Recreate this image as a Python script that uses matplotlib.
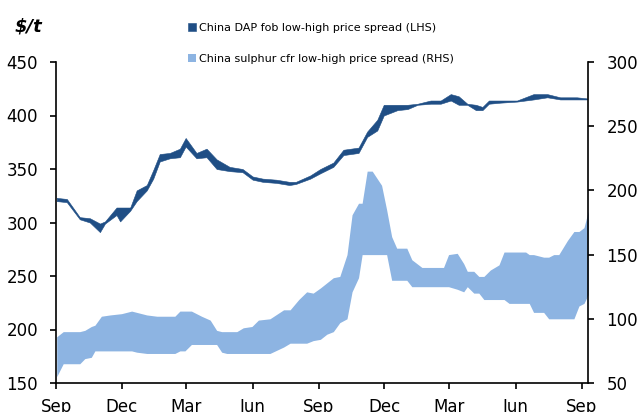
import matplotlib
matplotlib.use("Agg")
import matplotlib.pyplot as plt
import matplotlib.dates as mdates
import pandas as pd

# DAP China fob (LHS), $/t
dap_dates = ["2016-09-02", "2016-09-16", "2016-10-04", "2016-10-18", "2016-11-01", "2016-11-08",
             "2016-11-24", "2016-11-29", "2016-12-13", "2016-12-22", "2017-01-05", "2017-01-14",
             "2017-01-23", "2017-02-06", "2017-02-20", "2017-02-28", "2017-03-15", "2017-03-29",
             "2017-04-12", "2017-04-30", "2017-05-18", "2017-06-01", "2017-06-15", "2017-07-04",
             "2017-07-22", "2017-07-31", "2017-08-20", "2017-09-03", "2017-09-21", "2017-10-05",
             "2017-10-26", "2017-11-07", "2017-11-21", "2017-11-30", "2017-12-19", "2018-01-02",
             "2018-01-16", "2018-02-03", "2018-02-17", "2018-03-03", "2018-03-14", "2018-03-26",
             "2018-04-07", "2018-04-16", "2018-04-25", "2018-05-11", "2018-06-03", "2018-06-26",
             "2018-07-15", "2018-08-02", "2018-08-25", "2018-09-08"]
dap_low = [320, 319, 303, 300, 291, 299, 307, 301, 311, 320, 330, 341, 357, 360, 361, 371,
           360, 361, 350, 348, 347, 340, 338, 337, 335, 336, 341, 346, 352, 363, 365, 380,
           386, 400, 405, 406, 410, 411, 411, 414, 410, 410, 405, 405, 411, 412, 413, 415,
           417, 415, 415, 415]
dap_high = [323, 322, 305, 304, 299, 301, 314, 314, 314, 330, 335, 349, 364, 365, 369, 379,
            365, 369, 359, 352, 350, 343, 341, 340, 338, 338, 344, 350, 356, 368, 370, 385,
            396, 410, 410, 410, 411, 414, 414, 420, 418, 411, 410, 408, 414, 414, 414, 420,
            420, 417, 417, 416]

# Sulphur China cfr (RHS), $/t
sul_dates = ["2016-09-02", "2016-09-11", "2016-10-04", "2016-10-11", "2016-10-20", "2016-10-25",
             "2016-11-03", "2016-11-15", "2016-12-01", "2016-12-15", "2016-12-22", "2017-01-05",
             "2017-01-19", "2017-02-13", "2017-02-20", "2017-02-27", "2017-03-08", "2017-03-22",
             "2017-04-03", "2017-04-12", "2017-04-19", "2017-04-26", "2017-05-10", "2017-05-19",
             "2017-05-31", "2017-06-09", "2017-06-25", "2017-07-14", "2017-07-23", "2017-08-04",
             "2017-08-15", "2017-08-24", "2017-09-03", "2017-09-12", "2017-09-21", "2017-09-30",
             "2017-10-10", "2017-10-17", "2017-10-26", "2017-10-31", "2017-11-07", "2017-11-14",
             "2017-11-27", "2017-12-04", "2017-12-11", "2017-12-18", "2018-01-01", "2018-01-08",
             "2018-01-22", "2018-02-21", "2018-02-28", "2018-03-12", "2018-03-21", "2018-03-26",
             "2018-04-04", "2018-04-11", "2018-04-18", "2018-04-27", "2018-05-09", "2018-05-16",
             "2018-05-23", "2018-06-15", "2018-06-20", "2018-06-26", "2018-07-10", "2018-07-17",
             "2018-07-24", "2018-07-31", "2018-08-12", "2018-08-21", "2018-08-28", "2018-09-04",
             "2018-09-10"]
sul_low = [55, 65, 65, 69, 70, 75, 75, 75, 75, 75, 74, 73, 73, 73, 75, 75, 80, 80,
           80, 80, 74, 73, 73, 73, 73, 73, 73, 78, 81, 81, 81, 83, 84, 88, 90, 97,
           100, 121, 132, 150, 150, 150, 150, 150, 130, 130, 130, 125, 125, 125, 125, 123,
           121, 125, 120, 120, 115, 115, 115, 115, 112, 112, 112, 105, 105, 100, 100, 100,
           100, 100, 110, 112, 119]
sul_high = [86, 90, 90, 91, 94, 95, 102, 103, 104, 106, 105, 103, 102, 102, 106, 106, 106, 102,
            99, 91, 90, 90, 90, 93, 94, 99, 100, 107, 107, 115, 121, 120, 124, 128, 132, 133,
            150, 181, 190, 190, 215, 215, 204, 185, 164, 155, 155, 146, 140, 140, 150, 151,
            143, 137, 137, 133, 133, 138, 142, 152, 152, 152, 150, 150, 148, 148, 150, 150,
            161, 168, 168, 171, 184]

dap_color = "#1F4E85"
sul_color = "#8DB4E2"

dd = pd.to_datetime(dap_dates)
sd = pd.to_datetime(sul_dates)

fig = plt.figure(figsize=(6.4, 4.12), dpi=100)
ax = fig.add_axes([56 / 640, 1 - 383 / 412, (588.3 - 56) / 640, (383 - 62) / 412])
ax2 = ax.twinx()

h1 = ax.fill_between(dd, dap_low, dap_high, color=dap_color, lw=0.4, ec=dap_color,
                     label="China DAP fob low-high price spread (LHS)")
h2 = ax2.fill_between(sd, sul_low, sul_high, color=sul_color, lw=0,
                      label="China sulphur cfr low-high price spread (RHS)")

ax.set_ylim(150, 450)
ax.set_yticks(range(150, 451, 50))
ax2.set_ylim(50, 300)
ax2.set_yticks(range(50, 301, 50))
ax.set_xlim(pd.Timestamp("2016-09-01"), pd.Timestamp("2018-09-10"))
ax.xaxis.set_major_locator(mdates.MonthLocator(bymonth=[3, 6, 9, 12]))
ax.xaxis.set_major_formatter(mdates.DateFormatter("%b"))

for a in (ax, ax2):
    a.spines["top"].set_visible(False)
    for s in ("left", "right", "bottom"):
        a.spines[s].set_linewidth(1.2)
        a.spines[s].set_color("black")
    a.tick_params(axis="y", direction="out", length=4.5, width=1.2, labelsize=12, pad=8.5)
    a.tick_params(axis="x", direction="out", length=4.5, width=1.2, labelsize=12, pad=6)
ax.spines["right"].set_visible(False)
ax2.spines["left"].set_visible(False)
ax2.spines["bottom"].set_visible(False)

fig.text(15 / 640, 1 - 27 / 412, "\\$/t", fontsize=13, fontweight="bold", fontstyle="italic",
         va="center", ha="left")

fig.legend(handles=[h1, h2], loc="upper left", bbox_to_anchor=(188 / 640, 1 - 23 / 412),
           frameon=False, fontsize=8, handlelength=0.7, handleheight=0.7, handletextpad=0.3,
           labelspacing=1.9, borderpad=0, borderaxespad=0)

fig.savefig("out.png", dpi=100)
